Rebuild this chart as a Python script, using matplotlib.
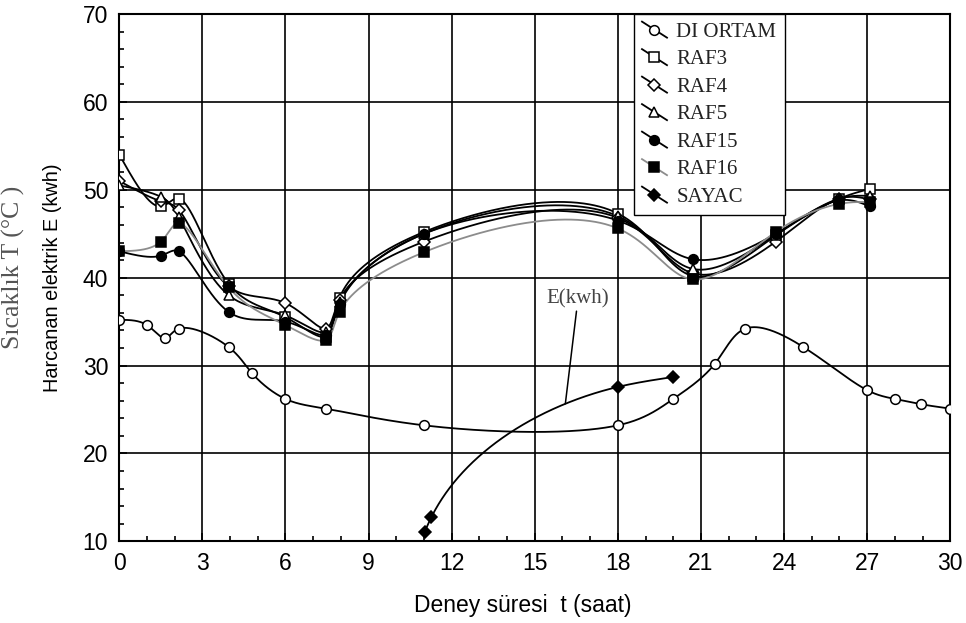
import numpy as np
import matplotlib
matplotlib.use('Agg')
import matplotlib.pyplot as plt
from matplotlib.lines import Line2D
from matplotlib.legend_handler import HandlerLine2D

plt.rcParams['font.family'] = ['Liberation Sans', 'DejaVu Sans']

# measurement times (saat)
t_dis = [0, 1.0, 1.65, 2.15, 3.95, 4.8, 6.0, 7.45, 11.0, 18.0, 20.0, 21.5, 22.6, 24.7, 27.0, 28.0, 28.95, 30.0]
T_dis = [35.2, 34.6, 33.1, 34.2, 32.1, 29.1, 26.2, 25.1, 23.2, 23.2, 26.2, 30.2, 34.2, 32.1, 27.2, 26.2, 25.6, 25.1]

t_raf = [0, 1.5, 2.15, 3.95, 6.0, 7.45, 7.95, 11.0, 18.0, 20.7, 23.7, 26.0, 27.1]
T_raf3 = [54.0, 48.1, 49.0, 39.3, 35.5, 33.3, 37.7, 45.2, 47.3, 40.2, 44.8, 49.0, 50.1]
T_raf4 = [51.0, 48.7, 47.7, 39.0, 37.1, 34.2, 37.5, 44.1, 46.8, 40.5, 44.1, 49.0, 48.9]
T_raf5 = [50.5, 49.2, 46.9, 38.0, 35.7, 33.8, 37.2, 45.0, 47.0, 41.0, 44.9, 49.0, 49.3]
T_raf15 = [43.0, 42.5, 43.0, 36.1, 35.0, 33.5, 37.0, 45.0, 46.5, 42.1, 45.0, 48.8, 48.1]
T_raf16 = [43.0, 44.1, 46.2, 38.9, 34.6, 32.9, 36.1, 42.9, 45.6, 39.8, 45.2, 48.4, 48.6]

t_sayac = [11.02, 11.27, 18.0, 20.0]
E_sayac = [11.06, 12.77, 27.57, 28.7]


def natural_spline(s, v, ss):
    # natural cubic spline v(s) evaluated at ss
    s = np.asarray(s, float)
    v = np.asarray(v, float)
    n = len(s)
    h = np.diff(s)
    A = np.zeros((n, n))
    b = np.zeros(n)
    A[0, 0] = A[-1, -1] = 1
    for i in range(1, n - 1):
        A[i, i - 1] = h[i - 1]
        A[i, i] = 2 * (h[i - 1] + h[i])
        A[i, i + 1] = h[i]
        b[i] = 6 * ((v[i + 1] - v[i]) / h[i] - (v[i] - v[i - 1]) / h[i - 1])
    M = np.linalg.solve(A, b)
    ss = np.asarray(ss, float)
    k = np.clip(np.searchsorted(s, ss) - 1, 0, n - 2)
    hk = h[k]
    a = s[k + 1] - ss
    c = ss - s[k]
    return ((M[k] * a ** 3 + M[k + 1] * c ** 3) / (6 * hk)
            + (v[k] / hk - M[k] * hk / 6) * a
            + (v[k + 1] / hk - M[k + 1] * hk / 6) * c)


def smooth(ax, x, y, alpha=0.5, n=1500):
    # parametric spline through the points, knot spacing from screen distance
    P = ax.transData.transform(np.column_stack([x, y]))
    d = np.hypot(*np.diff(P, axis=0).T) ** alpha
    s = np.concatenate([[0], np.cumsum(d)])
    ss = np.linspace(0, s[-1], n)
    Q = np.column_stack([natural_spline(s, P[:, 0], ss),
                         natural_spline(s, P[:, 1], ss)])
    Q = ax.transData.inverted().transform(Q)
    return Q[:, 0], Q[:, 1]


class SlantHandler(HandlerLine2D):
    # legend sample drawn as a slanted stroke with the marker in the middle
    def create_artists(self, legend, orig_handle, xdescent, ydescent,
                       width, height, fontsize, trans):
        x0, x1 = -xdescent, -xdescent + width
        y0, y1 = -ydescent + height * 1.05, -ydescent - height * 0.05
        line = Line2D([x0, x1], [y0, y1])
        self.update_prop(line, orig_handle, legend)
        line.set_marker('None')
        mark = Line2D([(x0 + x1) / 2], [(y0 + y1) / 2])
        self.update_prop(mark, orig_handle, legend)
        mark.set_linestyle('None')
        line.set_transform(trans)
        mark.set_transform(trans)
        return [line, mark]


fig = plt.figure(figsize=(9.66, 6.23), dpi=100)
ax = fig.add_axes([0.1235, 0.1311, 0.8602, 0.8464])
ax.set_xlim(0, 30)
ax.set_ylim(10, 70)

# name, x, y, marker, marker face, line colour, knot exponent
series = [
    ('DI ORTAM', t_dis, T_dis, 'o', 'white', 'black', 0.5),
    ('RAF3', t_raf, T_raf3, 's', 'white', 'black', 0.5),
    ('RAF4', t_raf, T_raf4, 'D', 'white', 'black', 0.5),
    ('RAF5', t_raf, T_raf5, '^', 'white', 'black', 0.5),
    ('RAF15', t_raf, T_raf15, 'o', 'black', 'black', 0.5),
    ('RAF16', t_raf, T_raf16, 's', 'black', '#8c8c8c', 0.5),
    ('SAYAC', t_sayac, E_sayac, 'D', 'black', 'black', 1.0),
]
msize = {'o': 7, 's': 7, 'D': 6.3, '^': 7}

handles = []
for name, tx, ty, mk, fc, lc, al in series:
    xs, ys = smooth(ax, tx, ty, alpha=al)
    ax.plot(xs, ys, color=lc, lw=1.3, zorder=3)
    ax.plot(tx, ty, ls='none', marker=mk, ms=msize[mk], mfc=fc,
            mec='black', mew=1.1, zorder=4)
    handles.append(Line2D([], [], color=lc, lw=1.3, marker=mk, ms=msize[mk],
                          mfc=fc, mec='black', mew=1.1, label=name))

# label for the energy curve, pointing at the curve near t = 16
ex, ey = smooth(ax, t_sayac, E_sayac, alpha=1.0)
k = np.argmin(np.abs(ex - 16.1))
ax.annotate('E(kwh)', xy=(ex[k], ey[k]), xytext=(16.56, 37.6),
            ha='center', va='center', fontsize=15, family='Liberation Serif',
            color='#444444',
            arrowprops=dict(arrowstyle='-', color='black', lw=1.1,
                            shrinkA=0, shrinkB=0), zorder=5)

ax.set_xticks(np.arange(0, 31, 3))
ax.set_yticks(np.arange(10, 71, 10))
ax.set_xticks(np.arange(0, 31, 1), minor=True)
ax.set_yticks(np.arange(10, 71, 2), minor=True)
ax.grid(True, which='major', color='black', lw=1.2, zorder=1)
ax.set_axisbelow(True)
ax.tick_params(which='both', direction='in', top=False, right=False,
               labelsize=16.5, width=1.2)
ax.tick_params(which='major', length=6, pad=8)
ax.tick_params(which='minor', length=3.5)
for sp in ax.spines.values():
    sp.set_linewidth(1.5)

ax.set_xlabel('Deney süresi  t (saat)', fontsize=16.5)
ax.xaxis.set_label_coords(0.485, -0.100)
ax.set_ylabel('Harcanan elektrik E (kwh)', fontsize=14.3)
ax.yaxis.set_label_coords(-0.069, 0.50)
fig.text(0.0138, 0.571, 'Sıcaklık T (°C )', rotation=90, ha='center',
         va='center', fontsize=18.5, family='Liberation Serif', color='#555555')

leg = ax.legend(handles=handles, handler_map={Line2D: SlantHandler()},
                loc='upper left', bbox_to_anchor=(0.619, 1.0),
                borderaxespad=0, fancybox=False, framealpha=1,
                edgecolor='black', handlelength=1.2,
                handletextpad=0.45, labelspacing=0.38, borderpad=0.4,
                prop={'family': 'Liberation Serif', 'size': 15})
leg.get_frame().set_linewidth(1.0)
for txt in leg.get_texts():
    txt.set_color('#222222')
leg.set_zorder(6)

fig.savefig('out.png', dpi=100)
